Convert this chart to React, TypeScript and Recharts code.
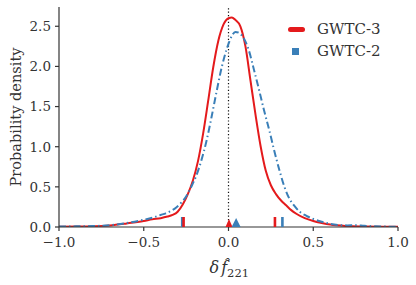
import React from 'react';
import {
  ComposedChart,
  Line,
  Scatter,
  XAxis,
  YAxis,
  ReferenceLine,
} from 'recharts';

// GWTC-3 density curve (red)
const gwtc3X = [-1.0, -0.9, -0.8, -0.7, -0.6, -0.5, -0.45, -0.4, -0.36, -0.33, -0.3, -0.27, -0.24, -0.21, -0.18, -0.15, -0.12, -0.09, -0.06, -0.03, 0.0, 0.02, 0.04, 0.07, 0.1, 0.13, 0.16, 0.19, 0.22, 0.25, 0.28, 0.31, 0.34, 0.37, 0.4, 0.45, 0.5, 0.55, 0.6, 0.7, 0.8, 0.9, 1.0];
const gwtc3Y = [0.004, 0.006, 0.01, 0.02, 0.045, 0.075, 0.095, 0.11, 0.13, 0.15, 0.19, 0.28, 0.41, 0.58, 0.82, 1.16, 1.57, 1.99, 2.32, 2.52, 2.6, 2.61, 2.58, 2.5, 2.25, 1.82, 1.39, 1.0, 0.7, 0.52, 0.41, 0.33, 0.27, 0.21, 0.165, 0.11, 0.075, 0.05, 0.03, 0.012, 0.006, 0.003, 0.002];

// GWTC-2 density curve (blue)
const gwtc2X = [-1.0, -0.9, -0.8, -0.7, -0.6, -0.5, -0.45, -0.4, -0.37, -0.34, -0.31, -0.28, -0.25, -0.22, -0.19, -0.16, -0.13, -0.1, -0.07, -0.04, -0.01, 0.02, 0.04, 0.06, 0.09, 0.12, 0.15, 0.18, 0.21, 0.24, 0.27, 0.3, 0.33, 0.36, 0.39, 0.42, 0.46, 0.5, 0.55, 0.6, 0.65, 0.7, 0.75, 0.8, 0.9, 1.0];
const gwtc2Y = [0.005, 0.008, 0.012, 0.022, 0.05, 0.09, 0.115, 0.15, 0.17, 0.2, 0.24, 0.3, 0.38, 0.5, 0.64, 0.83, 1.07, 1.37, 1.69, 1.99, 2.22, 2.38, 2.43, 2.42, 2.35, 2.2, 1.96, 1.71, 1.45, 1.21, 0.95, 0.71, 0.5, 0.35, 0.26, 0.19, 0.14, 0.1, 0.065, 0.04, 0.025, 0.02, 0.022, 0.015, 0.006, 0.003];

// 90% interval bounds and medians
const gwtc3Bounds = [-0.265, 0.274];
const gwtc2Bounds = [-0.273, 0.318];
const gwtc3Median = [0.003];
const gwtc2Median = [0.045];

const xTicks = [-1.0, -0.5, 0.0, 0.5, 1.0];
const yTicks = [0.0, 0.5, 1.0, 1.5, 2.0, 2.5];

const RED = '#e41a1c';
const BLUE = '#3a7fb8';
const AXIS = '#333333';
const TEXT = '#333333';
const FONT = '"DejaVu Serif", serif';

const toPts = (xs: number[], ys: number[]) => xs.map((x, i) => ({ x, y: ys[i] }));
const atZero = (xs: number[]) => xs.map((x) => ({ x, y: 0 }));

const fmt = (v: number) => (v < 0 ? '\u2212' + Math.abs(v).toFixed(1) : v.toFixed(1));

const barShape = (color: string) => (props: any) => {
  const { cx, cy } = props;
  return <rect x={cx - 1.3} y={cy - 10} width={2.6} height={10} fill={color} />;
};

const triShape = (color: string, w: number, h: number) => (props: any) => {
  const { cx, cy } = props;
  return <polygon points={`${cx - w / 2},${cy} ${cx + w / 2},${cy} ${cx},${cy - h}`} fill={color} />;
};

const XLabel = (props: any) => {
  const { viewBox } = props;
  const cx = viewBox.x + viewBox.width / 2;
  return (
    <text x={cx - 19} y={273} fontFamily={FONT} fontSize={16} fill={TEXT}>
      <tspan fontStyle="italic">δ</tspan>
      <tspan dx={2} fontStyle="italic">f̂</tspan>
      <tspan fontSize={11.5} dy={4}>221</tspan>
    </text>
  );
};

const YLabel = () => (
  <text
    x={16}
    y={117}
    transform="rotate(-90 16 117)"
    textAnchor="middle"
    dominantBaseline="central"
    fontFamily={FONT}
    fontSize={15.5}
    fill={TEXT}
    textLength={139}
    lengthAdjust="spacingAndGlyphs"
  >
    Probability density
  </text>
);

const tickStyle = { fontSize: 13.5, fill: TEXT, fontFamily: FONT };

export default function App() {
  return (
    <div style={{ position: 'relative', width: 416, height: 285, fontFamily: FONT }}>
      <style>{`body{margin:0}`}</style>
      <ComposedChart width={416} height={285} margin={{ top: 7, right: 18, left: 0, bottom: 0 }}>
        <XAxis
          dataKey="x"
          type="number"
          domain={[-1, 1]}
          ticks={xTicks}
          tickFormatter={fmt}
          allowDataOverflow
          height={58}
          tick={tickStyle}
          tickSize={4}
          tickMargin={6}
          stroke={AXIS}
          strokeWidth={1.2}
          label={<XLabel />}
        />
        <XAxis xAxisId="top" orientation="top" type="number" domain={[-1, 1]} height={0} tick={false} tickLine={false} stroke={AXIS} strokeWidth={1.2} />
        <YAxis
          type="number"
          domain={[0, 2.74]}
          ticks={yTicks}
          tickFormatter={fmt}
          allowDataOverflow
          width={59}
          tick={tickStyle}
          tickSize={4}
          tickMargin={4}
          stroke={AXIS}
          strokeWidth={1.2}
          label={<YLabel />}
        />
        <YAxis yAxisId="right" orientation="right" type="number" domain={[0, 2.74]} width={0} tick={false} tickLine={false} stroke={AXIS} strokeWidth={1.2} />
        <ReferenceLine x={0} stroke="#111" strokeWidth={1.2} strokeDasharray="1.2 2.2" />
        <Line data={toPts(gwtc3X, gwtc3Y)} dataKey="y" type="monotone" stroke={RED} strokeWidth={2} dot={false} isAnimationActive={false} />
        <Line data={toPts(gwtc2X, gwtc2Y)} dataKey="y" type="monotone" stroke={BLUE} strokeWidth={2} strokeDasharray="7 3 1.5 3" dot={false} isAnimationActive={false} />
        <Scatter data={atZero(gwtc2Bounds)} dataKey="y" shape={barShape(BLUE)} isAnimationActive={false} />
        <Scatter data={atZero(gwtc3Bounds)} dataKey="y" shape={barShape(RED)} isAnimationActive={false} />
        <Scatter data={atZero(gwtc3Median)} dataKey="y" shape={triShape(RED, 7, 8)} isAnimationActive={false} />
        <Scatter data={atZero(gwtc2Median)} dataKey="y" shape={triShape(BLUE, 9, 9)} isAnimationActive={false} />
      </ComposedChart>
      <div style={{ position: 'absolute', left: 288, top: 18, fontSize: 15, color: TEXT, lineHeight: '22px' }}>
        <div style={{ display: 'flex', alignItems: 'center' }}>
          <span style={{ display: 'inline-block', width: 17, height: 5, borderRadius: 3, background: RED, marginRight: 12 }} />
          GWTC-3
        </div>
        <div style={{ display: 'flex', alignItems: 'center' }}>
          <span style={{ display: 'inline-block', width: 7, height: 7, background: BLUE, marginLeft: 4, marginRight: 18 }} />
          GWTC-2
        </div>
      </div>
    </div>
  );
}
